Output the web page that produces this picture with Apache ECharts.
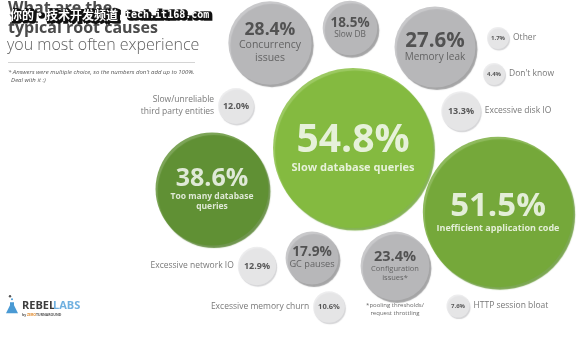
<!DOCTYPE html>
<html>
<head>
<meta charset="utf-8">
<script src="https://cdn.jsdelivr.net/npm/echarts@6/dist/echarts.min.js"></script>
<style>
  html, body { margin: 0; padding: 0; background: #ffffff; }
  #chart { width: 587px; height: 347px; }
</style>
</head>
<body>
<div id="chart"></div>
<script>
// Survey answers: share of respondents naming each root cause (multiple choice)
const causes = [
  'Slow database queries',
  'Inefficient application code',
  'Too many database\nqueries',
  'Concurrency\nissues',
  'Memory leak',
  'Configuration\nissues*',
  'Slow DB',
  'GC pauses',
  'Excessive disk IO',
  'Excessive network IO',
  'Slow/unreliable\nthird party entities',
  'Excessive memory churn',
  'HTTP session bloat',
  "Don't know",
  'Other'
];
const shares = [54.8, 51.5, 38.6, 28.4, 27.6, 23.4, 18.5, 17.9, 13.3, 12.9, 12.0, 10.6, 7.6, 4.4, 1.7];

// Packed-bubble placement on the layout plane (x across, y down)
const layoutX = [353, 498, 212, 270, 435, 395, 350, 312, 461, 257, 236, 329, 458, 494, 498];
const layoutY = [148, 212, 189, 43, 47, 266, 28, 258, 111, 266, 106, 307, 306, 74, 38];

// Footnotes printed under a bubble
const footnotes = ['', '', '', '', '', '*pooling thresholds/\nrequest throttling', '', '', '', '', '', '', '', '', ''];

// ---- styling ----
const FONT = '"Open Sans", "Noto Sans", sans-serif';
const valueFontSize = [39, 33, 25, 17.5, 20.5, 14.5, 13.5, 13.7, 9, 9, 9, 7.5, 6, 6, 6];
const nameFontSize = [11, 9, 8.5, 10.5, 10, 7.5, 8.3, 9.2];
const greenFills = ['#83bb3b', '#73a935', '#5d8f2e'];
const greenEdges = ['#67a02b', '#5b9127', '#4b7a22'];

function diameter(v) { return Math.max(22, v * 2.9 + 1); }

const rank = shares.map((v, i) => i).sort((a, b) => shares[b] - shares[a]);
function tier(i) {
  const r = rank.indexOf(i);
  if (r < 3) return 'green';
  if (shares[i] >= 17) return 'gray';
  return 'light';
}

function fmt(v) { return v.toFixed(1) + '%'; }

const bubbleData = shares.map((v, i) => {
  const t = tier(i);
  const r = rank.indexOf(i);
  let fill, edge, valueColor, nameColor, nameWeight;
  if (t === 'green') {
    fill = greenFills[r]; edge = greenEdges[r];
    valueColor = '#ffffff'; nameColor = '#ffffff'; nameWeight = 'bold';
  } else if (t === 'gray') {
    fill = '#bcbcbe'; edge = '#8e8e90';
    valueColor = '#383838'; nameColor = '#4e4e4e'; nameWeight = 'normal';
  } else {
    fill = '#e8e8ea'; edge = '#cbcbcd';
    valueColor = '#333333'; nameColor = '#4e4e4e'; nameWeight = 'normal';
  }
  const vf = valueFontSize[i];
  const hasName = t !== 'light';
  const nf = hasName ? nameFontSize[i] : 8;
  return {
    name: causes[i],
    value: [layoutX[i], layoutY[i], v],
    itemStyle: {
      color: fill,
      shadowColor: edge,
      shadowBlur: 1,
      shadowOffsetX: t === 'light' ? 1 : 2,
      shadowOffsetY: t === 'light' ? 1.5 : 2.5
    },
    label: {
      show: true,
      position: 'inside',
      formatter: hasName ? '{v|' + fmt(v) + '}\n{n|' + causes[i].split('\n').join('}\n{n|') + '}' : '{v|' + fmt(v) + '}',
      rich: {
        v: { fontFamily: FONT, fontWeight: 'bold', fontSize: vf, lineHeight: vf * 1.0, color: valueColor, align: 'center' },
        n: { fontFamily: FONT, fontWeight: nameWeight, fontSize: nf, lineHeight: nf * 1.25, color: nameColor, align: 'center' }
      }
    }
  };
});

// Names beside the small bubbles and footnotes under bubbles
const sideData = [];
shares.forEach((v, i) => {
  if (tier(i) === 'light') {
    sideData.push({
      value: [layoutX[i], layoutY[i], v],
      label: {
        show: true,
        position: layoutX[i] < 400 ? 'left' : 'right',
        distance: 4,
        formatter: causes[i],
        fontFamily: FONT, fontSize: 8.5, lineHeight: 12, color: '#555555'
      }
    });
  }
  if (footnotes[i]) {
    sideData.push({
      value: [layoutX[i], layoutY[i], v],
      label: {
        show: true,
        position: 'bottom',
        distance: 1,
        formatter: footnotes[i],
        fontFamily: FONT, fontSize: 6, lineHeight: 8, color: '#444444', align: 'center'
      }
    });
  }
});

// Outlined overlay caption: dark outline pass underneath, white fill on top
function outlinedText(text, left, top, font) {
  return [
    { type: 'text', left: left, top: top, z: 20,
      style: { text: text, font: font, fill: '#111111', stroke: '#111111', lineWidth: 3.5, lineJoin: 'round' } },
    { type: 'text', left: left, top: top, z: 21,
      style: { text: text, font: font, fill: '#ffffff' } }
  ];
}

const chart = echarts.init(document.getElementById('chart'), null, { renderer: 'canvas' });

chart.setOption({
  animation: false,
  backgroundColor: '#ffffff',
  grid: { left: 0, right: 0, top: 0, bottom: 0 },
  xAxis: { type: 'value', min: 0, max: 587, show: false },
  yAxis: { type: 'value', min: 0, max: 347, inverse: true, show: false },
  series: [
    {
      type: 'scatter',
      symbol: 'circle',
      symbolSize: (val) => diameter(val[2]),
      data: sideData,
      itemStyle: { color: 'rgba(0,0,0,0)' },
      silent: true,
      emphasis: { disabled: true },
      z: 1
    },
    {
      type: 'scatter',
      symbol: 'circle',
      symbolSize: (val) => diameter(val[2]),
      data: bubbleData,
      emphasis: { disabled: true },
      z: 2
    }
  ],
  graphic: [
    { type: 'text', left: 8, top: 0, z: 10,
      style: { text: 'What are the', font: 'bold 16px ' + FONT, fill: '#4b4b4b' } },
    { type: 'text', left: 8, top: 20, z: 10,
      style: { text: 'typical root causes', font: 'bold 16px ' + FONT, fill: '#4b4b4b' } },
    { type: 'text', left: 7, top: 37, z: 10,
      style: { text: 'you most often experience', font: '300 16px ' + FONT, fill: '#5e5e5e' } },
    { type: 'line', z: 10,
      shape: { x1: 8, y1: 62.5, x2: 195, y2: 62.5 },
      style: { stroke: '#d4d4d4', lineWidth: 1 } },
    { type: 'text', left: 8, top: 68, z: 10,
      style: { text: "* Answers were multiple choice, so the numbers don't add up to 100%.\n  Deal with it :)",
               font: 'italic 6px ' + FONT, fill: '#555555', lineHeight: 8 } },
    ...outlinedText('你的•技术开发频道', 10, 9, 'bold 12px "Noto Sans CJK SC"'),
    ...outlinedText('tech.it168.com', 125, 10, 'bold 10px "DejaVu Sans Mono"'),
    // RebelLabs logo
    { type: 'group', left: 6, top: 295, z: 10, children: [
      { type: 'circle', shape: { cx: 4, cy: 2, r: 1.2 }, style: { fill: '#555555' } },
      { type: 'circle', shape: { cx: 6, cy: 5, r: 1 }, style: { fill: '#4a9ad4' } },
      { type: 'polygon', shape: { points: [[4, 8], [8, 8], [8, 11], [12, 19], [0, 19], [4, 11]] },
        style: { fill: '#4a9ad4' } },
      { type: 'text', x: 16, y: 6, style: { text: 'REBEL', font: 'bold 11px ' + FONT, fill: '#3d3d3d' } },
      { type: 'text', x: 47, y: 6, style: { text: 'LABS', font: 'bold 11px ' + FONT, fill: '#6fb0e0' } },
      { type: 'text', x: 16, y: 18.5, style: { text: 'by ', font: 'bold 3.5px ' + FONT, fill: '#555555' } },
      { type: 'text', x: 21, y: 18.5, style: { text: 'ZERO', font: 'bold 3.5px ' + FONT, fill: '#e08a2c' } },
      { type: 'text', x: 30, y: 18.5, style: { text: 'TURNAROUND', font: 'bold 3.5px ' + FONT, fill: '#555555' } }
    ] }
  ]
});
</script>
</body>
</html>
